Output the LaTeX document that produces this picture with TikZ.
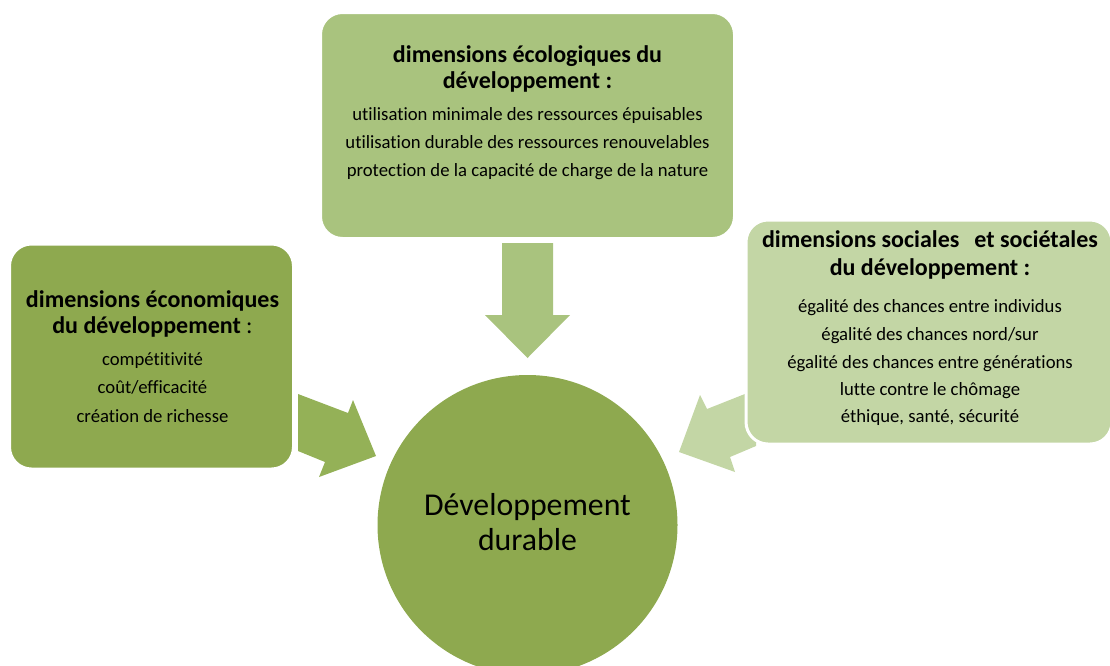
\documentclass[tikz,border=0pt]{standalone}
\usepackage{fontspec}
\setmainfont{Carlito}[Ligatures={NoCommon}]
\definecolor{darkg}{HTML}{8EA94F}
\definecolor{arrowl}{HTML}{94B157}
\definecolor{midg}{HTML}{A9C37E}
\definecolor{lightg}{HTML}{C3D6A5}
\tikzset{
  box/.style={rounded corners=22pt, draw=white, line width=3pt, inner sep=0pt},
  head/.style={anchor=base, font=\fontsize{24}{28}\selectfont\bfseries, inner sep=0pt},
  body/.style={anchor=base, font=\fontsize{18.7}{22}\selectfont, inner sep=0pt},
  big/.style={anchor=base, font=\fontsize{31.8}{36}\selectfont, inner sep=0pt},
}
\begin{document}
\begin{tikzpicture}[x=1pt,y=-1pt]
\useasboundingbox (0,0) rectangle (1110,665);
% arrows
\fill[midg] (502,243) -- (553,243) -- (553,315) -- (570,315) -- (527.5,358) -- (485,315) -- (502,315) -- cycle;
\fill[arrowl] (298,394) -- (348,413) -- (353,400) -- (376,456) -- (319,477) -- (325,462) -- (298,451) -- cycle;
\fill[lightg] (679,452) -- (700,395) -- (707,409) -- (760,388) -- (756,446) -- (730,457) -- (735,472) -- cycle;
% boxes
\node[box, fill=midg, minimum width=414pt, minimum height=226pt] (eco) at (527.5,125.5) {};
\node[box, fill=darkg, minimum width=284pt, minimum height=225pt] (econ) at (151.5,356.5) {};
\node[box, fill=lightg, minimum width=366pt, minimum height=224pt] (soc) at (929,332) {};
\node[circle, fill=darkg, minimum size=300pt, inner sep=0pt] (dd) at (527.5,525) {};
% top box text
\node[head] (e1) at (527.5,62) {dimensions écologiques du};
\node[head] (e2) at (527.5,88) {développement :};
\node[body] (e3) at (527.5,120) {utilisation minimale des ressources épuisables};
\node[body] (e4) at (527.5,148) {utilisation durable des ressources renouvelables};
\node[body] (e5) at (527.5,176) {protection de la capacité de charge de la nature};
% left box text
\node[head] (c1) at (152.5,307) {dimensions économiques};
\node[head] (c2) at (152.5,333) {du développement\mdseries\ :};
\node[body] (c3) at (152.5,365) {compétitivité};
\node[body] (c4) at (152.5,393) {coût/efficacité};
\node[body] (c5) at (152.5,422) {création de richesse};
% right box text
\node[head] (s1) at (930,247) {dimensions sociales\hspace{15pt}et sociétales};
\node[head] (s2) at (930,275) {du développement :};
\node[body] (s3) at (930,312) {égalité des chances entre individus};
\node[body] (s4) at (930,340) {égalité des chances nord/sur};
\node[body] (s5) at (930,368) {égalité des chances entre générations};
\node[body] (s6) at (930,395) {lutte contre le chômage};
\node[body] (s7) at (930,422) {éthique, santé, sécurité};
% circle text
\node[big] (d1) at (527.5,515) {Développement};
\node[big] (d2) at (527.5,550) {durable};
\end{tikzpicture}
\end{document}
